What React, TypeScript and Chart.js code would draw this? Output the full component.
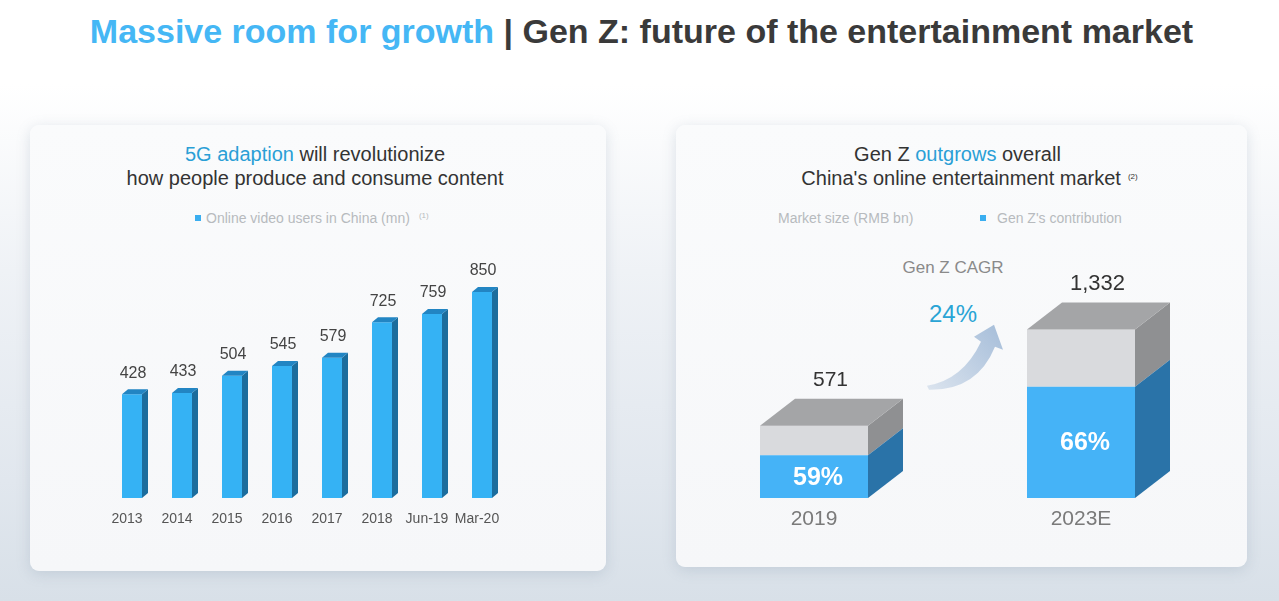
import React, { useEffect, useRef } from "react";
import { Chart, registerables } from "chart.js";

Chart.register(...registerables);

// ---------- data ----------
const videoCategories = ["2013", "2014", "2015", "2016", "2017", "2018", "Jun-19", "Mar-20"];
const videoUsers = [428, 433, 504, 545, 579, 725, 759, 850];

const marketCategories = ["2019", "2023E"];
const marketSize = [571, 1332];
const genZSharePct = [59, 66];
const genZCagr = "24%";

const FONT = '"Liberation Sans", Arial, Helvetica, sans-serif';

// ---------- left chart plugin: 3D bars + value labels ----------
const bar3dPlugin = {
  id: "bar3d",
  afterDatasetsDraw(chart: any) {
    const ctx = chart.ctx;
    const meta = chart.getDatasetMeta(0);
    const dx = 6;
    const dy = 5;
    meta.data.forEach((el: any, i: number) => {
      const { x, y, base, width } = el.getProps(["x", "y", "base", "width"], true);
      const l = x - width / 2;
      const r = x + width / 2;
      ctx.save();
      ctx.fillStyle = "#1c6d9d";
      ctx.beginPath();
      ctx.moveTo(r, y);
      ctx.lineTo(r + dx, y - dy);
      ctx.lineTo(r + dx, base - dy);
      ctx.lineTo(r, base);
      ctx.closePath();
      ctx.fill();
      ctx.fillStyle = "#2285c3";
      ctx.beginPath();
      ctx.moveTo(l, y);
      ctx.lineTo(l + dx, y - dy);
      ctx.lineTo(r + dx, y - dy);
      ctx.lineTo(r, y);
      ctx.closePath();
      ctx.fill();
      ctx.fillStyle = "#444";
      ctx.font = `16px ${FONT}`;
      ctx.textAlign = "center";
      ctx.textBaseline = "middle";
      ctx.fillText(String(videoUsers[i]), x + 1, y - 21);
      ctx.restore();
    });
  },
};

// ---------- right chart plugin: 3D boxes, labels, arrow ----------
const box3dPlugin = {
  id: "box3d",
  afterDatasetsDraw(chart: any) {
    const ctx = chart.ctx;
    const blue = chart.getDatasetMeta(0);
    const gray = chart.getDatasetMeta(1);
    const dx = 35;
    const dy = 27;
    ctx.save();
    gray.data.forEach((g: any, i: number) => {
      const b = blue.data[i];
      const gp = g.getProps(["x", "y", "base", "width"], true);
      const bp = b.getProps(["x", "y", "base", "width"], true);
      const l = gp.x - gp.width / 2;
      const r = gp.x + gp.width / 2;
      const yTop = gp.y;
      const yMid = bp.y;
      const yBase = bp.base;
      // side gray
      ctx.fillStyle = "#8f9092";
      ctx.beginPath();
      ctx.moveTo(r, yTop);
      ctx.lineTo(r + dx, yTop - dy);
      ctx.lineTo(r + dx, yMid - dy);
      ctx.lineTo(r, yMid);
      ctx.closePath();
      ctx.fill();
      // side blue
      ctx.fillStyle = "#2a73a8";
      ctx.beginPath();
      ctx.moveTo(r, yMid);
      ctx.lineTo(r + dx, yMid - dy);
      ctx.lineTo(r + dx, yBase - dy);
      ctx.lineTo(r, yBase);
      ctx.closePath();
      ctx.fill();
      // top
      ctx.fillStyle = "#a4a5a7";
      ctx.beginPath();
      ctx.moveTo(l, yTop);
      ctx.lineTo(l + dx, yTop - dy);
      ctx.lineTo(r + dx, yTop - dy);
      ctx.lineTo(r, yTop);
      ctx.closePath();
      ctx.fill();
      // total label
      ctx.fillStyle = "#333";
      ctx.font = `${i === 0 ? 21 : 22}px ${FONT}`;
      ctx.textAlign = "center";
      ctx.textBaseline = "middle";
      ctx.fillText(marketSize[i].toLocaleString("en-US"), gp.x + dx / 2 - 1, yTop - dy - 19);
      // share label
      ctx.fillStyle = "#ffffff";
      ctx.font = `bold 25px ${FONT}`;
      ctx.fillText(`${genZSharePct[i]}%`, gp.x + 4, (yMid + yBase) / 2 + 1);
    });

    // CAGR arrow between the boxes
    const g0 = gray.data[0].getProps(["x", "y", "width"], true);
    const tx = g0.x + g0.width / 2 + dx + 24;
    const ty = g0.y - 40;
    const grad = ctx.createLinearGradient(tx, ty, tx + 70, ty - 60);
    grad.addColorStop(0, "#dae3ee");
    grad.addColorStop(1, "#a8bfda");
    ctx.fillStyle = grad;
    ctx.beginPath();
    ctx.moveTo(tx, ty);
    ctx.quadraticCurveTo(tx + 36, ty - 6, tx + 54, ty - 44);
    ctx.lineTo(tx + 47, ty - 49);
    ctx.lineTo(tx + 67, ty - 61);
    ctx.lineTo(tx + 76, ty - 36);
    ctx.lineTo(tx + 68, ty - 39);
    ctx.quadraticCurveTo(tx + 50, ty + 5, tx + 2, ty + 4);
    ctx.closePath();
    ctx.fill();
    ctx.restore();
  },
};

function VideoChart() {
  const ref = useRef<HTMLCanvasElement>(null);
  useEffect(() => {
    const chart = new Chart(ref.current!, {
      type: "bar",
      data: {
        labels: videoCategories,
        datasets: [
          {
            data: videoUsers,
            backgroundColor: "#35b2f4",
            borderWidth: 0,
            barPercentage: 0.4,
            categoryPercentage: 1,
          },
        ],
      },
      options: {
        animation: false,
        responsive: false,
        events: [],
        layout: { padding: { left: 77, right: 99, top: 130.65, bottom: 33 } },
        plugins: { legend: { display: false }, tooltip: { enabled: false } },
        scales: {
          x: {
            grid: { display: false, drawTicks: false },
            border: { display: false },
            ticks: {
              color: "#555",
              font: { family: FONT, size: 14 },
              padding: 13,
              labelOffset: -5,
              maxRotation: 0,
              autoSkip: false,
            },
            afterFit: (s: any) => {
              s.height = 40;
            },
          },
          y: { display: false, min: 0, max: 1000 },
        },
      },
      plugins: [bar3dPlugin],
    } as any);
    return () => chart.destroy();
  }, []);
  return <canvas ref={ref} width={576} height={446} style={{ position: "absolute", left: 0, top: 0, width: 576, height: 446 }} />;
}

function MarketChart() {
  const ref = useRef<HTMLCanvasElement>(null);
  useEffect(() => {
    const genZ = marketSize.map((v, i) => (v * genZSharePct[i]) / 100);
    const rest = marketSize.map((v, i) => v - genZ[i]);
    const chart = new Chart(ref.current!, {
      type: "bar",
      data: {
        labels: marketCategories,
        datasets: [
          { data: genZ, backgroundColor: "#45b3f7", borderWidth: 0, barPercentage: 0.4045, categoryPercentage: 1 },
          { data: rest, backgroundColor: "#d9dadd", borderWidth: 0, barPercentage: 0.4045, categoryPercentage: 1 },
        ],
      },
      options: {
        animation: false,
        responsive: false,
        events: [],
        layout: { padding: { left: 4.5, right: 32.5, top: 183.2, bottom: 29 } },
        plugins: { legend: { display: false }, tooltip: { enabled: false } },
        scales: {
          x: {
            stacked: true,
            grid: { display: false, drawTicks: false },
            border: { display: false },
            ticks: { color: "#7a7a7a", font: { family: FONT, size: 21 }, padding: 9, maxRotation: 0 },
            afterFit: (s: any) => {
              s.height = 40;
            },
          },
          y: { stacked: true, display: false, min: 0, max: 1500 },
        },
      },
      plugins: [box3dPlugin],
    } as any);
    return () => chart.destroy();
  }, []);
  return <canvas ref={ref} width={571} height={442} style={{ position: "absolute", left: 0, top: 0, width: 571, height: 442 }} />;
}

const cardStyle: React.CSSProperties = {
  position: "absolute",
  background: "linear-gradient(180deg, #fafbfc 0%, #f6f7f9 100%)",
  borderRadius: 9,
  boxShadow: "0 3px 14px rgba(110,130,155,0.22)",
};

const abs = (extra: React.CSSProperties): React.CSSProperties => ({ position: "absolute", whiteSpace: "nowrap", ...extra });

export default function App() {
  useEffect(() => {
    document.body.style.margin = "0";
  }, []);
  return (
    <div
      style={{
        position: "absolute",
        left: 0,
        top: 0,
        width: 1279,
        height: 601,
        overflow: "hidden",
        fontFamily: FONT,
        background: "linear-gradient(180deg, #ffffff 0%, #ffffff 14%, #eff2f6 45%, #e1e7ee 80%, #d8e0e8 100%)",
      }}
    >
      <div
        style={abs({
          left: 2,
          width: 1279,
          top: 11,
          textAlign: "center",
          fontSize: 34,
          lineHeight: "40px",
          fontWeight: "bold",
          letterSpacing: 0,
          color: "#3a3a3a",
        })}
      >
        <span style={{ color: "#45b7f5" }}>Massive room for growth</span> | Gen Z: future of the entertainment market
      </div>

      {/* Left card */}
      <div style={{ ...cardStyle, left: 30, top: 125, width: 576, height: 446 }}>
        <div style={abs({ left: -3, width: 576, top: 17, textAlign: "center", fontSize: 20, lineHeight: "24px", color: "#333" })}>
          <span style={{ color: "#2a9fd6" }}>5G adaption</span> will revolutionize
          <br />
          how people produce and consume content
        </div>
        <div style={abs({ left: 165, top: 90, width: 6, height: 6, background: "#3aaef0" })} />
        <div style={abs({ left: 176, top: 85, fontSize: 14, lineHeight: "16px", color: "#b7babe" })}>
          Online video users in China (mn)
          <span style={{ fontSize: 8, position: "relative", top: -5, marginLeft: 9 }}>(1)</span>
        </div>
        <VideoChart />
      </div>

      {/* Right card */}
      <div style={{ ...cardStyle, left: 676, top: 125, width: 571, height: 442 }}>
        <div style={abs({ left: -4, width: 571, top: 17, textAlign: "center", fontSize: 20, lineHeight: "24px", color: "#333" })}>
          Gen Z <span style={{ color: "#2a9fd6" }}>outgrows</span> overall
          <br />
          <span style={{ marginLeft: 24 }}>
            China's online entertainment market
            <span style={{ fontSize: 8, position: "relative", top: -6, marginLeft: 7 }}>(2)</span>
          </span>
        </div>
        <div style={abs({ left: 102, top: 85, fontSize: 14, lineHeight: "16px", color: "#b7babe" })}>Market size (RMB bn)</div>
        <div style={abs({ left: 304, top: 90, width: 6, height: 6, background: "#3aaef0" })} />
        <div style={abs({ left: 321, top: 85, fontSize: 14, lineHeight: "16px", color: "#b7babe" })}>Gen Z's contribution</div>
        <div style={abs({ left: 277, top: 143, transform: "translate(-50%,-50%)", fontSize: 17, color: "#8a8a8a" })}>Gen Z CAGR</div>
        <div style={abs({ left: 277, top: 189, transform: "translate(-50%,-50%)", fontSize: 24, color: "#2aa4d5" })}>{genZCagr}</div>
        <MarketChart />
      </div>
    </div>
  );
}
